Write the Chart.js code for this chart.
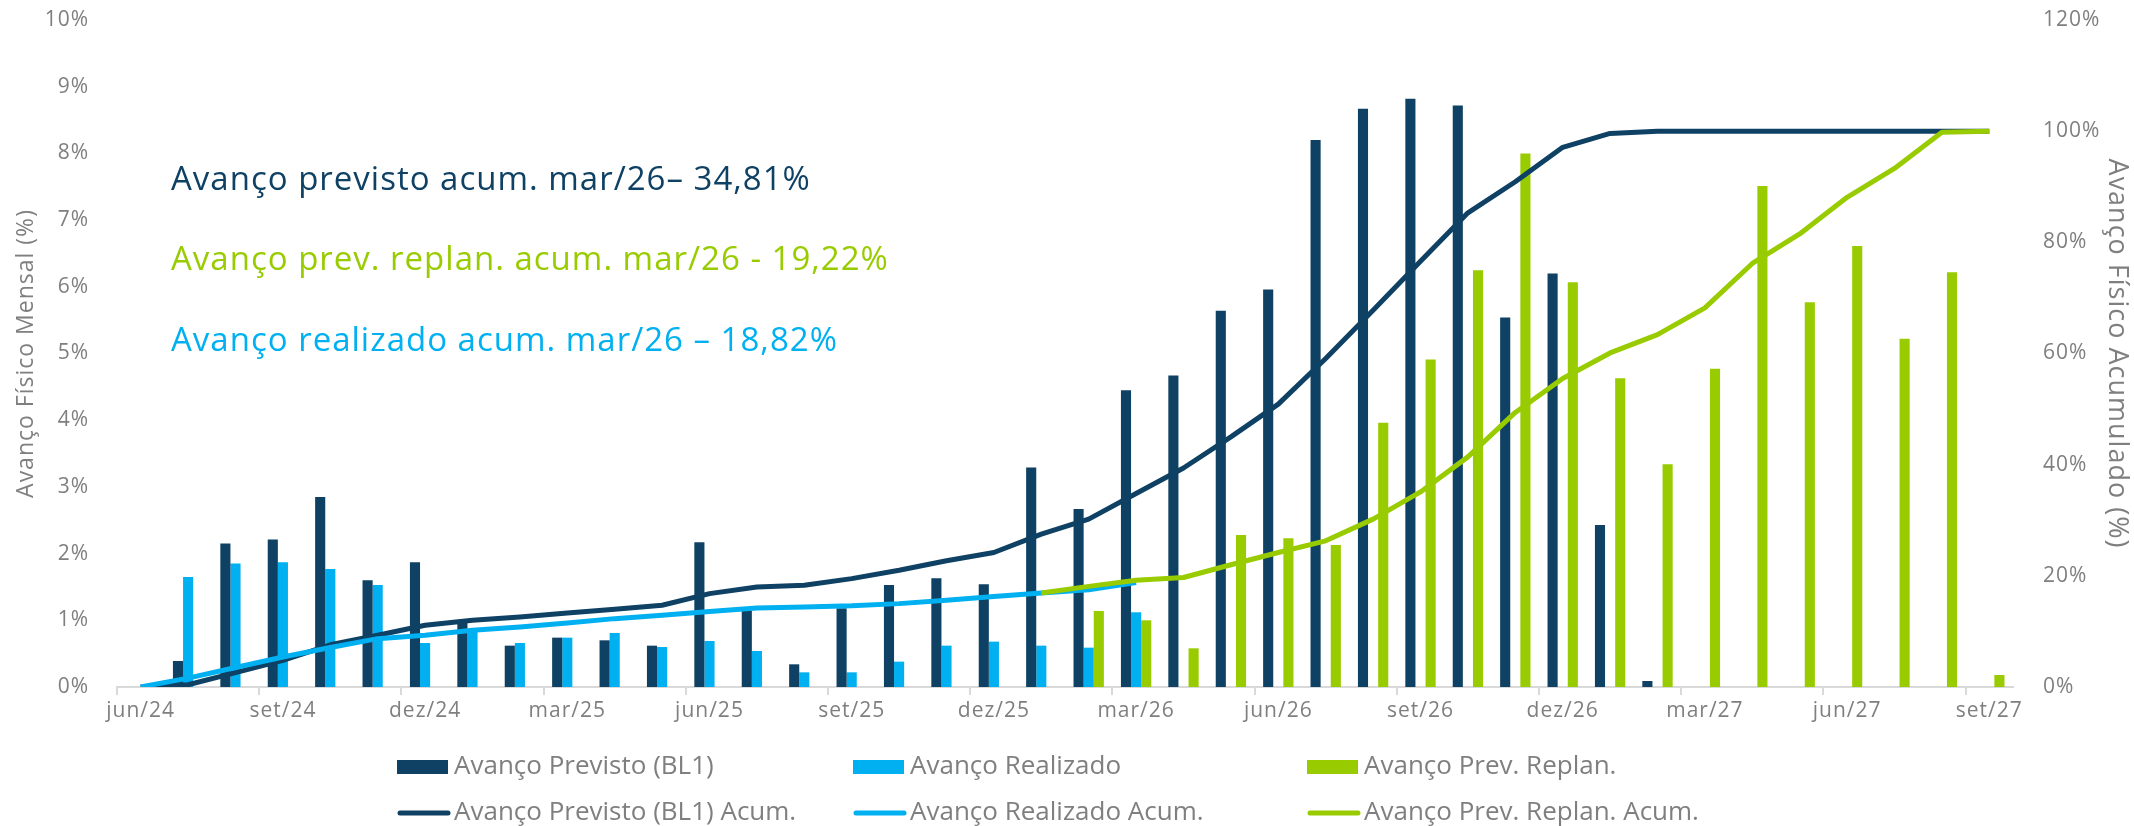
<!DOCTYPE html>
<html lang="pt-BR">
<head>
<meta charset="UTF-8">
<title>Avanço Físico</title>
<style>
  html, body { margin: 0; padding: 0; background: #fff; }
  #grafico { display: block; }
</style>
</head>
<body>
<canvas id="grafico" width="2134" height="826"></canvas>
<script src="https://cdn.jsdelivr.net/npm/chart.js"></script>
<script>
// meses do eixo x (jun/24 a set/27)
const meses = ['jun/24','jul/24','ago/24','set/24','out/24','nov/24','dez/24','jan/25','fev/25','mar/25',
  'abr/25','mai/25','jun/25','jul/25','ago/25','set/25','out/25','nov/25','dez/25','jan/26',
  'fev/26','mar/26','abr/26','mai/26','jun/26','jul/26','ago/26','set/26','out/26','nov/26',
  'dez/26','jan/27','fev/27','mar/27','abr/27','mai/27','jun/27','jul/27','ago/27','set/27'];

// avanço mensal (%) - eixo esquerdo
const previstoMensal = [null, 0.39, 2.15, 2.21, 2.85, 1.60, 1.87, 0.96, 0.62, 0.74,
  0.70, 0.62, 2.17, 1.15, 0.34, 1.18, 1.53, 1.63, 1.54, 3.29,
  2.67, 4.45, 4.67, 5.64, 5.96, 8.20, 8.67, 8.82, 8.72, 5.54,
  6.20, 2.43, 0.09, null, null, null, null, null, null, null];
const realizadoMensal = [null, 1.65, 1.85, 1.87, 1.77, 1.53, 0.66, 0.86, 0.66, 0.74,
  0.81, 0.60, 0.69, 0.54, 0.22, 0.22, 0.38, 0.62, 0.68, 0.62,
  0.59, 1.12, null, null, null, null, null, null, null, null,
  null, null, null, null, null, null, null, null, null, null];
const replanMensal = [null, null, null, null, null, null, null, null, null, null,
  null, null, null, null, null, null, null, null, null, null,
  1.14, 1.00, 0.58, 2.28, 2.23, 2.13, 3.96, 4.91, 6.25, 8.00,
  6.07, 4.63, 3.34, 4.77, 7.51, 5.77, 6.61, 5.22, 6.22, 0.18];

// avanço acumulado (%) - eixo direito
const previstoAcum = [0, 0.4, 2.6, 4.8, 7.6, 9.3, 11.1, 12.0, 12.6, 13.3,
  14.0, 14.7, 16.8, 18.0, 18.3, 19.5, 21.0, 22.7, 24.2, 27.5,
  30.2, 34.8, 39.4, 45.0, 50.9, 59.1, 67.8, 76.6, 85.3, 90.9,
  97.1, 99.6, 100, 100, 100, 100, 100, 100, 100, 100];
const realizadoAcum = [0, 1.6, 3.5, 5.4, 7.1, 8.7, 9.3, 10.2, 10.8, 11.5,
  12.3, 12.9, 13.6, 14.2, 14.4, 14.6, 15.0, 15.6, 16.3, 16.9,
  17.5, 18.8, null, null, null, null, null, null, null, null,
  null, null, null, null, null, null, null, null, null, null];
const replanAcum = [null, null, null, null, null, null, null, null, null, null,
  null, null, null, null, null, null, null, null, null, 16.9,
  18.1, 19.2, 19.7, 22.0, 24.2, 26.3, 30.2, 35.1, 41.4, 49.4,
  55.5, 60.1, 63.4, 68.2, 76.2, 81.5, 88.1, 93.3, 99.8, 100];

// textos de destaque
const destaques = [
  'Avanço previsto acum. mar/26– 34,81%',
  'Avanço prev. replan. acum. mar/26 - 19,22%',
  'Avanço realizado acum. mar/26 – 18,82%'
];

const azulEscuro = '#0E4163';
const azulClaro = '#00B0F0';
const verde = '#99CC00';
const cinza = '#7F7F7F';
const fonte = "'Open Sans', sans-serif";

// espaçamento entre letras parecido com o original
const espacamento = {
  id: 'espacamento',
  beforeDraw(chart) { chart.ctx.letterSpacing = '1px'; }
};

// legenda em grade (3 colunas x 2 linhas)
const legendaGrade = {
  id: 'legendaGrade',
  afterDraw(chart) {
    const ctx = chart.ctx;
    const colunas = [397, 853, 1307];
    const linhas = [767, 813];
    ctx.save();
    ctx.letterSpacing = '0px';
    ctx.font = '26px ' + fonte;
    ctx.textBaseline = 'middle';
    chart.data.datasets.forEach((ds, i) => {
      const x = colunas[i % 3];
      const y = linhas[Math.floor(i / 3)];
      if (ds.type === 'bar') {
        ctx.fillStyle = ds.backgroundColor;
        ctx.fillRect(x, y - 7, 51, 14);
      } else {
        ctx.strokeStyle = ds.borderColor;
        ctx.lineWidth = 5;
        ctx.lineCap = 'round';
        ctx.beginPath();
        ctx.moveTo(x + 3, y);
        ctx.lineTo(x + 51, y);
        ctx.stroke();
      }
      ctx.fillStyle = cinza;
      ctx.fillText(ds.label, x + 57, y);
    });
    ctx.restore();
  }
};

// textos coloridos no canto superior esquerdo
const textosDestaque = {
  id: 'textosDestaque',
  afterDraw(chart) {
    const ctx = chart.ctx;
    const cores = [azulEscuro, verde, azulClaro];
    const bases = [190, 270, 351];
    ctx.save();
    ctx.letterSpacing = '1px';
    ctx.font = '33px ' + fonte;
    ctx.textBaseline = 'alphabetic';
    destaques.forEach((t, i) => {
      ctx.fillStyle = cores[i];
      ctx.fillText(t, 171, bases[i]);
    });
    ctx.restore();
  }
};

// eixo y sem folga extra em cima/embaixo
const semFolga = s => { s.paddingTop = 0; s.paddingBottom = 0; };

const ctx = document.getElementById('grafico').getContext('2d');
const grafico = new Chart(ctx, {
  data: {
    labels: meses,
    datasets: [
      { type: 'bar', label: 'Avanço Previsto (BL1)', data: previstoMensal, backgroundColor: azulEscuro,
        yAxisID: 'y', order: 3, categoryPercentage: 0.64, barPercentage: 1 },
      { type: 'bar', label: 'Avanço Realizado', data: realizadoMensal, backgroundColor: azulClaro,
        yAxisID: 'y', order: 4, categoryPercentage: 0.64, barPercentage: 1 },
      { type: 'bar', label: 'Avanço Prev. Replan.', data: replanMensal, backgroundColor: verde,
        yAxisID: 'y', order: 5, categoryPercentage: 0.64, barPercentage: 1 },
      { type: 'line', label: 'Avanço Previsto (BL1) Acum.', data: previstoAcum, borderColor: azulEscuro,
        borderWidth: 5, pointRadius: 0, tension: 0, yAxisID: 'y2', order: 2, borderJoinStyle: 'round' },
      { type: 'line', label: 'Avanço Realizado Acum.', data: realizadoAcum, borderColor: azulClaro,
        borderWidth: 5, pointRadius: 0, tension: 0, yAxisID: 'y2', order: 1, borderJoinStyle: 'round' },
      { type: 'line', label: 'Avanço Prev. Replan. Acum.', data: replanAcum, borderColor: verde,
        borderWidth: 5, pointRadius: 0, tension: 0, yAxisID: 'y2', order: 0, borderJoinStyle: 'round' }
    ]
  },
  options: {
    responsive: false,
    animation: false,
    devicePixelRatio: 1,
    layout: { padding: { top: 20, left: 0, right: 0, bottom: 0 } },
    plugins: {
      legend: { display: false },
      tooltip: { enabled: false }
    },
    scales: {
      x: {
        grid: {
          offset: true,
          drawOnChartArea: false,
          tickLength: 8,
          lineWidth: 2,
          color: c => (c.index % 3 === 0 ? '#D9D9D9' : 'rgba(0,0,0,0)')
        },
        border: { color: '#D9D9D9', width: 2 },
        ticks: {
          autoSkip: false,
          maxRotation: 0,
          padding: 3,
          color: cinza,
          font: { family: fonte, size: 21 },
          callback: (v, i) => (i % 3 === 0 ? meses[i] : '')
        },
        afterFit: s => { s.height = 139; }
      },
      y: {
        position: 'left',
        min: 0,
        max: 10,
        grid: { display: false },
        border: { display: false },
        ticks: { stepSize: 1, padding: 20, color: cinza, font: { family: fonte, size: 21 }, callback: v => v + '%' },
        title: { display: true, text: 'Avanço Físico Mensal (%)', color: cinza,
          font: { family: fonte, size: 23 }, padding: { top: 13, bottom: 0 } },
        afterFit: s => { s.width = 117; semFolga(s); }
      },
      y2: {
        position: 'right',
        min: 0,
        max: 120,
        grid: { display: false },
        border: { display: false },
        ticks: { stepSize: 20, padding: 22, color: cinza, font: { family: fonte, size: 21 }, callback: v => v + '%' },
        title: { display: true, text: 'Avanço Físico Acumulado (%)', color: cinza,
          font: { family: fonte, size: 27 }, padding: { top: 1, bottom: 0 } },
        afterFit: s => { s.width = 121; semFolga(s); }
      }
    }
  },
  plugins: [espacamento, legendaGrade, textosDestaque]
});
</script>
</body>
</html>
